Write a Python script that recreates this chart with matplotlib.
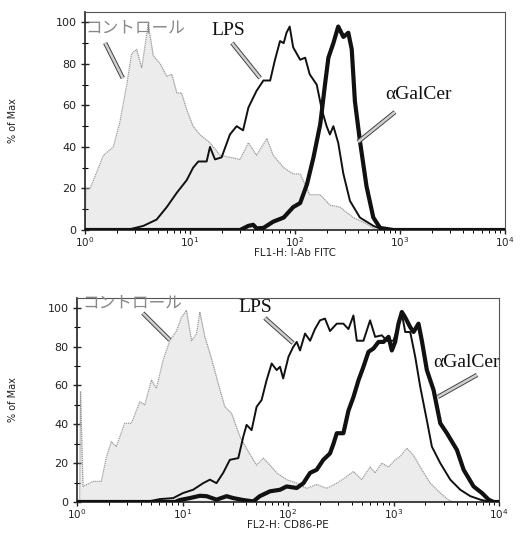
import numpy as np
import matplotlib
matplotlib.use("Agg")
import matplotlib.pyplot as plt
from matplotlib.ticker import LogLocator, MultipleLocator

# ---------------- data: top panel (FL1-H: I-Ab FITC) ----------------
top_ctrl_x = [1.0, 1.02, 1.12, 1.5, 1.86, 2.15, 2.5, 2.78, 3.1, 3.47, 4.0, 4.47, 5.2, 6.0, 6.7,
              7.5, 8.3, 9.3, 10.7, 12.4, 15.5, 19.3, 24, 30, 36, 43, 54, 62, 78, 96, 112,
              138, 174, 215, 268, 359, 480, 600, 10000]
top_ctrl_y = [0, 20, 20, 36, 40, 52, 70, 85, 87, 78, 99, 84, 80, 74, 75,
              66, 66, 58, 50, 46, 42, 36, 35, 34, 42, 36, 44, 36, 30, 27, 27,
              17, 17, 12, 11, 6, 3, 0, 0]

top_lps_x = [1.0, 2.5, 3.6, 4.8, 6.0, 7.5, 9.3, 10.7, 12, 14.4, 15.5, 17.3, 20, 24, 27.8, 32,
             36, 43, 50, 58, 64.5, 72, 78, 83, 89, 96, 112, 125, 138, 161, 180, 200,
             215, 232, 258, 289, 334, 415, 557, 693, 10000]
top_lps_y = [0, 0, 2, 5, 11, 18, 24, 30, 33, 33, 40, 34, 35, 46, 50, 48,
             59, 67, 72, 72, 82, 91, 90, 95, 98, 88, 82, 83, 75, 70, 58, 50,
             46, 50, 42, 27, 14, 6, 2, 0, 0]

top_gal_x = [1.0, 30, 36, 40, 43, 50, 62, 78, 96, 112, 130, 150, 174, 193, 208, 232,
             258, 289, 322, 347, 372, 415, 480, 557, 646, 863, 10000]
top_gal_y = [0, 0, 2, 2.5, 0.8, 1, 4, 6, 11, 13, 22, 35, 51, 70, 83, 90,
             98, 93, 95, 87, 62, 43, 21, 6, 1, 0, 0]

# ---------------- data: bottom panel (FL2-H: CD86-PE) ----------------
bot_ctrl_x = [1.0, 1.06, 1.08, 1.14, 1.42, 1.70, 1.9, 2.12, 2.36, 2.83, 3.28, 3.94, 4.39, 5.08,
              5.66, 6.55, 7.58, 8.77, 9.78, 10.9, 12.2, 13.6, 14.6, 16.3, 18.8, 21.8, 25.2,
              29.2, 35, 42, 50.4, 58.3, 67.5, 78, 97, 121, 150, 187, 233, 290, 360, 417,
              500, 600, 670, 775, 897, 1037, 1157, 1339, 1549, 1857, 2230, 2775, 3328, 3715,
              10000]
bot_ctrl_y = [0, 0, 57, 8, 10.6, 10.6, 23, 31, 28.5, 40.5, 40.5, 51.6, 50, 62.7,
              58.5, 73, 83, 88, 95, 98.6, 83, 86.7, 97.8, 85, 74, 61, 49,
              45.6, 33.7, 26, 19, 22.6, 19, 15, 11.5, 9.7, 7, 9, 7, 9.7, 13, 15.7,
              11.5, 18, 15, 20, 18, 21.7, 23.4, 27.7, 24, 16.6, 9.7, 4.6, 1, 0,
              0]

bot_lps_x = [1.0, 4.5, 6.1, 8.15, 10.1, 12.6, 15.7, 18.2, 21, 24.3, 28.1, 33.8, 37.7, 40.5,
             45.2, 50.4, 56.2, 62.7, 70, 78, 84, 90, 101, 112, 121, 130, 145, 162, 180,
             201, 224, 250, 290, 335, 374, 417, 449, 519, 600, 670, 775, 864, 1000, 1115,
             1200, 1291, 1440, 1607, 1792, 2071, 2311, 2775, 3453, 4298, 5350, 6654, 8279,
             10000]
bot_lps_y = [0, 0, 1.5, 2, 4.6, 6.3, 9.7, 11.5, 9.7, 15, 21.7, 22.6, 33.7, 39.7,
             37, 49, 52.5, 62.7, 71.3, 67.9, 69.6, 63.6, 74.7, 79.8, 82.4, 78, 86.7, 83, 89,
             93.5, 94.4, 88, 91.8, 91.8, 89, 96, 83, 83, 93.5, 85, 85.8, 83, 83, 91,
             97, 87.5, 87.5, 74.7, 59.3, 42, 28.5, 20, 11.5, 6.3, 3, 1.2, 0,
             0]

bot_gal_x = [1.0, 8.5, 9.4, 11.7, 14.6, 16.9, 21, 26.2, 30.3, 37.7, 46.9, 54, 67.5, 84, 97,
             121, 140, 162, 187, 216, 250, 270, 290, 335, 374, 417, 466, 519, 579, 646,
             721, 804, 897, 964, 1037, 1115, 1200, 1291, 1440, 1549, 1726, 1857, 2071,
             2398, 2775, 3208, 3991, 4620, 5743, 6900, 7980, 8896, 10000]
bot_gal_y = [0, 0, 1, 2, 3.2, 3, 1.2, 3, 2, 1, 0.3, 3, 5.5, 6.3, 8,
             7.2, 9.7, 15, 16.6, 21.7, 25, 30, 35.4, 35.4, 47, 54, 62.7, 69.6, 77.3, 79,
             82.4, 82.4, 85, 78, 82.4, 91.8, 97.8, 95, 90, 87.5, 91.8, 83, 67.9,
             57.6, 40.5, 35.4, 26.8, 16.6, 8, 4.6, 1.2, 0, 0]

y_ticks = [0, 20, 40, 60, 80, 100]
ctrl_label = "コントロール"
lps_label = "LPS"
gal_label = "αGalCer"

plt.rcParams['font.family'] = ['DejaVu Sans']

fig = plt.figure(figsize=(5.27, 5.37), dpi=100)
ax1 = fig.add_axes([85/527, 1-230/537, 420/527, 218/537])
ax2 = fig.add_axes([77/527, 1-502/537, 422/527, 204/537])


def style_axis(ax, xlabel):
    ax.set_xscale("log")
    ax.set_xlim(1, 1e4)
    ax.set_ylim(0, 105)
    ax.set_yticks(y_ticks)
    ax.yaxis.set_minor_locator(MultipleLocator(10))
    ax.xaxis.set_major_locator(LogLocator(base=10, numticks=10))
    ax.xaxis.set_minor_locator(LogLocator(base=10, subs=np.arange(2, 10), numticks=10))
    ax.tick_params(axis="both", which="major", width=1, labelsize=8, colors="#222")
    ax.tick_params(axis="x", which="major", length=3, pad=1, labelsize=7.5)
    ax.tick_params(axis="x", which="minor", length=2, width=0.7)
    ax.tick_params(axis="y", which="major", length=6, pad=3)
    ax.tick_params(axis="y", which="minor", length=4, width=0.8)
    ax.tick_params(axis="x", which="both", direction="out")
    ax.tick_params(axis="y", which="both", direction="inout")
    for s in ["top", "right"]:
        ax.spines[s].set_color("#555")
        ax.spines[s].set_linewidth(0.8)
    for s in ["left", "bottom"]:
        ax.spines[s].set_color("#222")
        ax.spines[s].set_linewidth(1.2)
    ax.set_xlabel(xlabel, fontsize=7.5, labelpad=-1, color="#222")
    ax.set_ylabel("% of Max", fontsize=7, color="#222")


def draw_hist(ax, cx, cy, lx, ly, gx, gy):
    ax.fill_between(cx, cy, 0, color="#ececec", zorder=1, lw=0)
    ax.plot(cx, cy, color="#999999", lw=0.9, ls=(0, (1, 0.6)), zorder=2)
    ax.plot(lx, ly, color="#111111", lw=1.4, zorder=3)
    ax.plot(gx, gy, color="#111111", lw=3.0, zorder=4)


def pointer(ax, p0, p1):
    ax.plot([p0[0], p1[0]], [p0[1], p1[1]], transform=ax.transAxes,
            color="#444", lw=3.2, solid_capstyle="butt", zorder=5, clip_on=False)
    ax.plot([p0[0], p1[0]], [p0[1], p1[1]], transform=ax.transAxes,
            color="#cfcfcf", lw=1.8, solid_capstyle="butt", zorder=6, clip_on=False)


# top panel
draw_hist(ax1, top_ctrl_x, top_ctrl_y, top_lps_x, top_lps_y, top_gal_x, top_gal_y)
style_axis(ax1, "FL1-H: I-Ab FITC")
ax1.yaxis.set_label_coords(-0.16, 0.5)
ax1.text(0.0, 0.925, ctrl_label, transform=ax1.transAxes, fontsize=12, color="#888",
         family=["Noto Sans CJK JP", "DejaVu Sans"], va="center", ha="left", zorder=7)
ax1.text(0.30, 0.915, lps_label, transform=ax1.transAxes, fontsize=14, color="#111",
         family="Liberation Serif", va="center", ha="left", zorder=7)
ax1.text(0.715, 0.62, gal_label, transform=ax1.transAxes, fontsize=14, color="#111",
         family="Liberation Serif", va="center", ha="left", zorder=7)
pointer(ax1, (0.048, 0.858), (0.09, 0.697))
pointer(ax1, (0.35, 0.858), (0.417, 0.697))
pointer(ax1, (0.738, 0.541), (0.65, 0.404))

# bottom panel
draw_hist(ax2, bot_ctrl_x, bot_ctrl_y, bot_lps_x, bot_lps_y, bot_gal_x, bot_gal_y)
style_axis(ax2, "FL2-H: CD86-PE")
ax2.yaxis.set_label_coords(-0.14, 0.5)
ax2.text(0.012, 0.975, ctrl_label, transform=ax2.transAxes, fontsize=12, color="#888",
         family=["Noto Sans CJK JP", "DejaVu Sans"], va="center", ha="left", zorder=7)
ax2.text(0.383, 0.955, lps_label, transform=ax2.transAxes, fontsize=14, color="#111",
         family="Liberation Serif", va="center", ha="left", zorder=7)
ax2.text(0.845, 0.686, gal_label, transform=ax2.transAxes, fontsize=14, color="#111",
         family="Liberation Serif", va="center", ha="left", zorder=7)
pointer(ax2, (0.156, 0.926), (0.22, 0.794))
pointer(ax2, (0.445, 0.902), (0.512, 0.779))
pointer(ax2, (0.948, 0.623), (0.855, 0.515))

fig.savefig("out.png", dpi=100)
